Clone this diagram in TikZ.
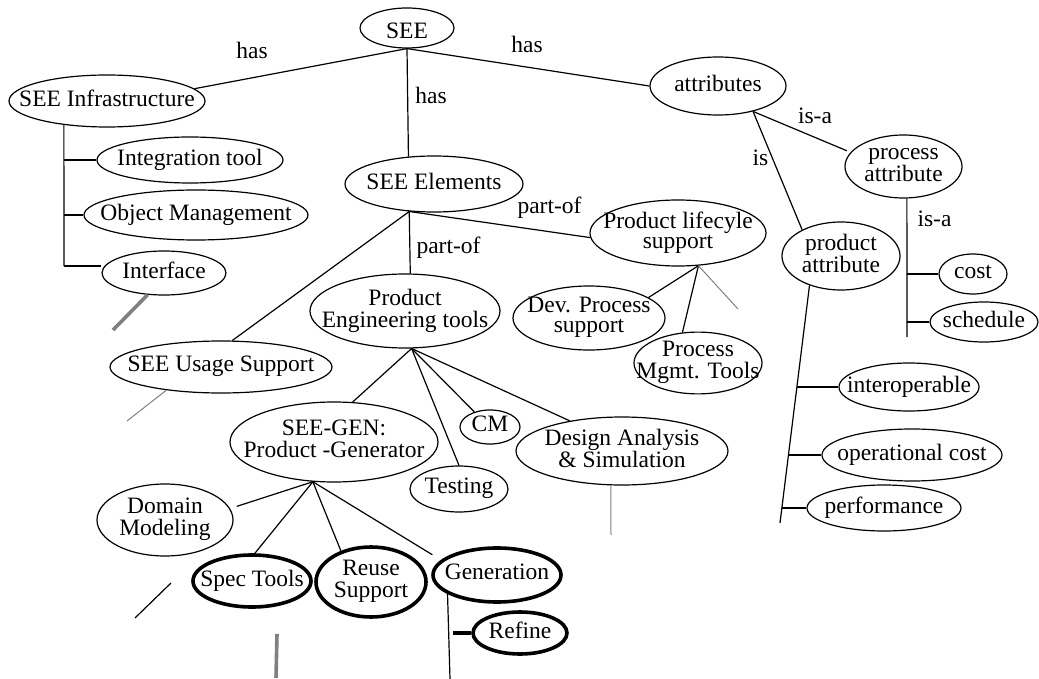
\documentclass[tikz,border=0pt]{standalone}
\usepackage{fontspec}
\setmainfont{Liberation Serif}
\usetikzlibrary{shapes.geometric}
\newcommand{\ztx}[2][0pt]{\makebox[0pt][c]{\raisebox{#1}[\height][\depth]{\begin{tabular}{@{}c@{}}#2\end{tabular}}}}
\begin{document}
\begin{tikzpicture}[x=1pt,y=-1pt,
  txt/.style={font=\fontsize{23.5}{20}\selectfont},
  ov/.style={ellipse,draw,line width=1.2pt,inner sep=0pt,txt},
  bov/.style={ov,line width=3.6pt},
  lbl/.style={txt,inner sep=0pt},
  con/.style={line width=1.2pt},
  gthin/.style={draw=gray,line width=1pt},
  gthick/.style={draw=gray,line width=3.6pt},
  bthick/.style={line width=3.6pt}]
\useasboundingbox (0,0) rectangle (1039,679);

% nodes
\node[ov,minimum width=94pt,minimum height=40pt] (see) at (407,28) {\ztx[-6pt]{SEE}};
\node[ov,minimum width=196pt,minimum height=52pt] (inf) at (107,101) {\ztx{SEE Infrastructure}};
\node[ov,minimum width=136pt,minimum height=58pt] (attr) at (718,86) {\ztx{attributes}};
\node[ov,minimum width=178pt,minimum height=56pt] (elem) at (434,184) {\ztx{SEE Elements}};
\node[ov,minimum width=186pt,minimum height=46pt] (integ) at (190,160) {\ztx{Integration tool}};
\node[ov,minimum width=224pt,minimum height=50pt] (objm) at (196,215) {\ztx{Object Management}};
\node[ov,minimum width=124pt,minimum height=44pt] (iface) at (164,273) {\ztx{Interface}};
\node[ov,minimum width=176pt,minimum height=66pt] (lc) at (678,233) {\ztx{Product lifecyle\\support}};
\node[ov,minimum width=117pt,minimum height=63pt] (pa) at (903.5,166.5) {\ztx{process\\attribute}};
\node[ov,minimum width=118pt,minimum height=68pt] (pr) at (841,256) {\ztx{product\\attribute}};
\node[ov,minimum width=68pt,minimum height=40pt] (cost) at (973,274) {\ztx{cost}};
\node[ov,minimum width=108pt,minimum height=40pt] (sched) at (984,322) {\ztx{schedule}};
\node[ov,minimum width=190pt,minimum height=74pt] (pe) at (405,311) {\ztx{Product\\Engineering tools}};
\node[ov,minimum width=152pt,minimum height=64pt] (dps) at (589,318) {\ztx{Dev. Process\\support}};
\node[ov,minimum width=128pt,minimum height=60pt] (pmt) at (698,363) {\ztx{Process\\Mgmt. Tools}};
\node[ov,minimum width=222pt,minimum height=52pt] (usage) at (221,367) {\ztx{SEE Usage Support}};
\node[ov,minimum width=208pt,minimum height=80pt] (gen) at (334,442) {\ztx{SEE-GEN:\\Product -Generator}};
\node[ov,minimum width=60pt,minimum height=34pt] (cm) at (490,427) {\ztx{CM}};
\node[ov,minimum width=212pt,minimum height=68pt] (da) at (622,451) {\ztx{Design Analysis\\\& Simulation}};
\node[ov,minimum width=98pt,minimum height=46pt] (test) at (459,489) {\ztx{Testing}};
\node[ov,minimum width=140pt,minimum height=48pt] (interop) at (909,387) {\ztx{interoperable}};
\node[ov,minimum width=180pt,minimum height=52pt] (opc) at (912,455) {\ztx{operational cost}};
\node[ov,minimum width=154pt,minimum height=46pt] (perf) at (884,508) {\ztx{performance}};
\node[ov,minimum width=136pt,minimum height=72pt] (dm) at (165,520) {\ztx{Domain\\Modeling}};
\node[bov,minimum width=118pt,minimum height=52pt] (st) at (252,581) {\ztx{Spec Tools}};
\node[bov,minimum width=110pt,minimum height=70pt] (rs) at (371,582) {\ztx{Reuse\\Support}};
\node[bov,minimum width=128pt,minimum height=54pt] (gn) at (497,575) {\ztx{Generation}};
\node[bov,minimum width=94pt,minimum height=42pt] (re) at (520,633) {\ztx{Refine}};

% edge labels
\node[lbl] (hasL) at (252,50) {has};
\node[lbl] (hasM) at (431,95) {has};
\node[lbl] (hasR) at (527,44) {has};
\node[lbl] (partofA) at (549.5,207.5) {part-of};
\node[lbl] (partofB) at (448.5,247.5) {part-of};
\node[lbl] (isaA) at (815,116) {is-a};
\node[lbl] (isB) at (760.5,158) {is};
\node[lbl] (isaC) at (934.5,219) {is-a};

% coordinates
\coordinate (infend) at (64,266);
\coordinate (ib1) at (64,160);
\coordinate (ib2) at (64,215);
\coordinate (ib3) at (64,266);
\coordinate (ifgrey) at (113,330);
\coordinate (usgrey) at (127,421);
\coordinate (dagrey) at (611,535);
\coordinate (lcgrey) at (738,309);
\coordinate (gnend) at (450,679);
\coordinate (rb) at (453,633);
\coordinate (paend) at (907,337);
\coordinate (cb) at (907,274);
\coordinate (sb) at (907,322);
\coordinate (prend) at (780,523);
\coordinate (pb1) at (797.1,387);
\coordinate (pb2) at (788.6,455);
\coordinate (pb3) at (781.9,508);
\coordinate (lnA) at (171,583);
\coordinate (lnB) at (135,618);
\coordinate (gbA) at (277,634);
\coordinate (gbB) at (276,678);

% connectors
\draw[con] (see.south) -- (inf.8);
\draw[con] (see.south) -- (elem.133);
\draw[con] (see.south) -- (attr.west);

\draw[con] (inf.209) -- (infend);
\draw[con] (ib1) -- (integ.west);
\draw[con] (ib2) -- (objm.west);
\draw[con] (ib3) -- (ib3 -| iface.west);
\draw[gthick] (iface.233) -- (ifgrey);

\draw[con] (elem.228) -- (pe.82);
\draw[con] (elem.228) -- (usage.67);
\draw[con] (elem.228) -- (lc.183);
\draw[gthin] (usage.203) -- (usgrey);

\draw[con] (lc.302) -- (dps.19);
\draw[con] (lc.302) -- (pmt.117);
\draw[gthin] (lc.302) -- (lcgrey);

\draw[con] (pe.280) -- (gen.65);
\draw[con] (pe.280) -- (test.north);
\draw[con] (pe.280) -- (cm.136);
\draw[con] (pe.280) -- (da.150);
\draw[gthin] (da.252) -- (dagrey);

\draw[con,shorten >=7pt] (gen.242) -- (dm.10);
\draw[con] (gen.242) -- (st.84);
\draw[con] (gen.242) -- (rs.134);
\draw[con,shorten >=10pt] (gen.242) -- (gn.165);

\draw[con] (gn.201) -- (gnend);
\draw[bthick] (rb) -- (re.west);

\draw[con,shorten >=4pt] (attr.324) -- (pa.165);
\draw[con] (attr.324) -- (pr.146);

\draw[con] (pa.276) -- (paend);
\draw[con] (cb) -- (cost.west);
\draw[con] (sb) -- (sched.west);

\draw[con] (pr.223) -- (prend);
\draw[con] (pb1) -- (interop.west);
\draw[con] (pb2) -- (opc.west);
\draw[con] (pb3) -- (perf.west);

\draw[con] (lnA) -- (lnB);
\draw[gthick] (gbA) -- (gbB);
\end{tikzpicture}
\end{document}
